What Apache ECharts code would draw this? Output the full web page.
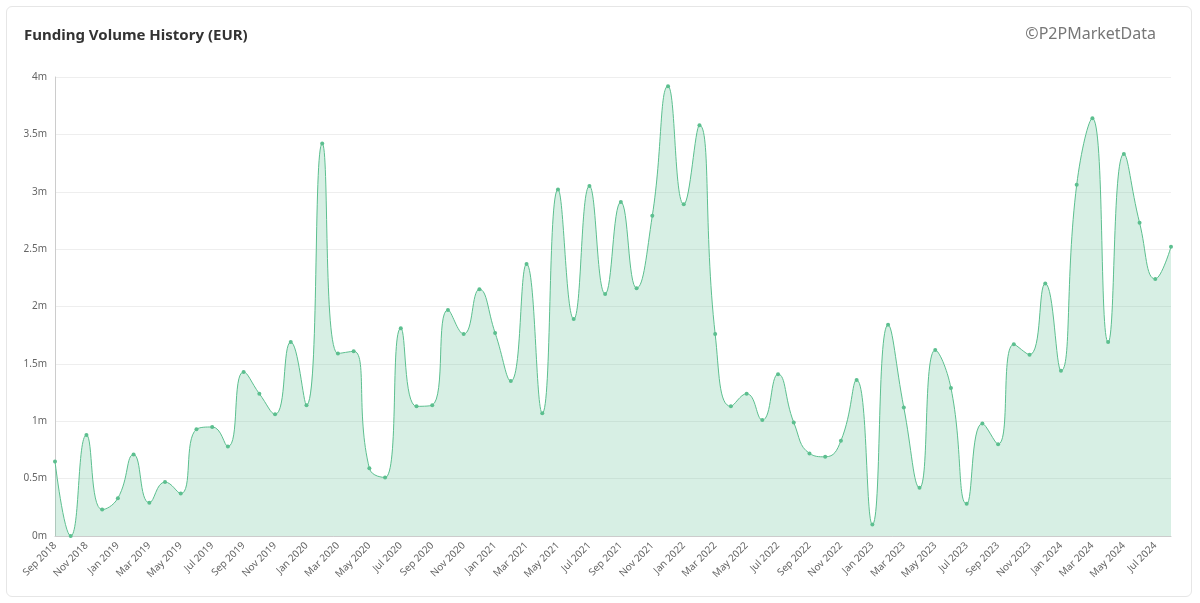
<!DOCTYPE html><html><head><meta charset="utf-8"><script src="https://cdn.jsdelivr.net/npm/echarts@6/dist/echarts.min.js"></script>
<style>html,body{margin:0;background:#fff}#c{position:absolute;left:6px;top:6px;width:1186px;height:591px;border:1px solid #e6e6e6;border-radius:6px;box-sizing:border-box}</style></head><body><div id="c"></div><script>
const months=["Jan","Feb","Mar","Apr","May","Jun","Jul","Aug","Sep","Oct","Nov","Dec"];
const categories=[];for(let y=2018,m=8;categories.length<72;){categories.push(months[m]+" "+y);m++;if(m==12){m=0;y++;}}
const values=[0.65,0,0.88,0.23,0.33,0.71,0.29,0.47,0.37,0.93,0.95,0.78,1.43,1.24,1.06,1.69,1.14,3.42,1.59,1.61,0.59,0.51,1.81,1.13,1.14,1.97,1.76,2.15,1.77,1.35,2.37,1.07,3.02,1.89,3.05,2.11,2.91,2.16,2.79,3.92,2.89,3.58,1.76,1.13,1.24,1.01,1.41,0.99,0.72,0.69,0.83,1.36,0.10,1.84,1.12,0.42,1.62,1.29,0.28,0.98,0.80,1.67,1.58,2.20,1.44,3.06,3.64,1.69,3.33,2.73,2.24,2.52];
const ch=echarts.init(document.getElementById('c'));
ch.setOption({animation:false,
title:[{text:"Funding Volume History (EUR)",left:12,top:16,textStyle:{fontFamily:"Noto Sans",fontSize:15,fontWeight:"bold",color:"#333"}},
{text:"©P2PMarketData",right:30,top:14,textStyle:{fontFamily:"Noto Sans",fontSize:16,fontWeight:"normal",color:"#777"}}],
grid:{left:48,right:20,top:70,bottom:60},
xAxis:{type:"category",data:categories,boundaryGap:false,axisLine:{lineStyle:{color:"#ccc"}},axisTick:{show:false},
axisLabel:{interval:1,rotate:45,color:"#666",fontSize:10,fontFamily:"Noto Sans"}},
yAxis:{type:"value",min:0,max:4,interval:0.5,axisLabel:{formatter:v=>v+"m",color:"#666",fontSize:10,fontFamily:"Noto Sans"},
splitLine:{lineStyle:{color:"#eee"}},axisLine:{show:true,lineStyle:{color:"#ccc"}}},
series:[{type:"line",data:values,smooth:0.5,symbol:"circle",symbolSize:4,itemStyle:{color:"#5cbf8f"},lineStyle:{color:"#5cbf8f",width:1},areaStyle:{color:"rgba(92,191,143,0.35)"}}]});
</script></body></html>
